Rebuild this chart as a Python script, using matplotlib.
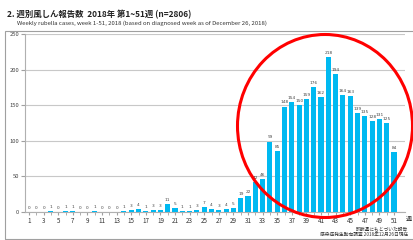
import matplotlib
matplotlib.use("Agg")
import matplotlib.pyplot as plt
from matplotlib.patches import Ellipse, Rectangle
import numpy as np

plt.rcParams['font.family'] = ['Noto Sans CJK JP', 'DejaVu Sans']

weeks = list(range(1, 52))
cases = [0, 0, 0, 1, 0, 1, 1, 0, 0, 1, 0, 0, 0, 1, 3, 4, 1, 3, 3, 11,
         5, 1, 1, 3, 7, 4, 3, 4, 5, 19, 22, 42, 46, 99, 85, 148, 154, 150, 159, 176,
         162, 218, 194, 164, 163, 139, 135, 128, 131, 125, 84]
tick_weeks = list(range(1, 52, 2))
yticks = [0, 50, 100, 150, 200, 250]

title = "2. 週別風しん報告数  2018年 第1~51週 (n=2806)"
subtitle = "Weekly rubella cases, week 1-51, 2018 (based on diagnosed week as of December 26, 2018)"
note1 = "診断週にもとづいた報告"
note2 = "感染症発生動向調査 2018年12月26日現在"

W, H = 414, 240
fig = plt.figure(figsize=(W / 100, H / 100), dpi=100)
fig.patch.set_facecolor('white')

# outer frame of the chart box
fig.patches.append(Rectangle((5 / W, 1 / H), 1.2, (H - 31 - 1) / H, transform=fig.transFigure,
                             fill=False, edgecolor='#a0a0a0', linewidth=0.8))

ax = fig.add_axes([25 / W, (H - 212) / H, 380 / W, 178 / H])
ax.bar(weeks, cases, width=0.7, color='#00b9f1', zorder=3)
for w, c in zip(weeks, cases):
    ax.text(w, c + 3, str(c), ha='center', va='bottom', fontsize=3.1, color='#444444',
            family='DejaVu Sans')

ax.set_xlim(0.45, 52.5)
ax.set_ylim(0, 250)
ax.set_yticks(yticks)
ax.set_xticks(tick_weeks)
ax.set_xticks(weeks, minor=True)
ax.tick_params(axis='y', length=3, labelsize=4.2, colors='#a0a0a0', labelcolor='#444444', pad=1)
ax.tick_params(axis='x', which='both', length=2, labelsize=4.5, colors='#a0a0a0',
               labelcolor='#333333', pad=1.5)
ax.grid(axis='y', color='#c8c8c8', linewidth=0.8, zorder=0)
for s in ['top', 'right']:
    ax.spines[s].set_visible(False)
for s in ['left', 'bottom']:
    ax.spines[s].set_color('#b0b0b0')
    ax.spines[s].set_linewidth(0.8)

fig.text(409 / W, 1 - 219.5 / H, "週", fontsize=4.3, ha='center', va='center', color='#333333')
fig.text(7 / W, 1 - 14.5 / H, title, fontsize=6, fontweight='bold', ha='left', va='center', color='#222222')
fig.text(17 / W, 1 - 23 / H, subtitle, fontsize=4.3, ha='left', va='center', color='#333333')
fig.text(408 / W, 1 - 228.5 / H, note1, fontsize=3.4, ha='right', va='center', color='#333333')
fig.text(408 / W, 1 - 234.5 / H, note2, fontsize=3.4, ha='right', va='center', color='#333333')

# red highlight circle
fig.patches.append(Ellipse((325 / W, 1 - 126 / H), 175 / W, 183 / H, transform=fig.transFigure,
                           fill=False, edgecolor='#ff0000', linewidth=2.2, zorder=10))

fig.savefig("out.png", dpi=100)
